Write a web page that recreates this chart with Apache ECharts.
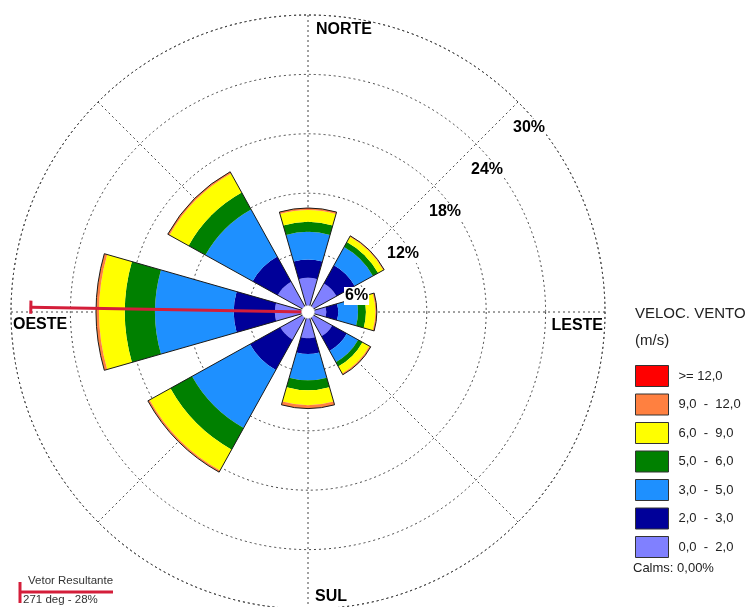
<!DOCTYPE html>
<html><head><meta charset="utf-8">
<script src="https://cdn.jsdelivr.net/npm/echarts/dist/echarts.min.js"></script>
<style>html,body{margin:0;padding:0;background:#fff}#c{width:753px;height:607px}</style>
</head><body><div id="c"></div>
<script>
// ---- data ----
const directions = ['N', 'NE', 'E', 'SE', 'S', 'SW', 'W', 'NW'];
const speedClasses = ['0,0  -  2,0', '2,0  -  3,0', '3,0  -  5,0', '5,0  -  6,0', '6,0  -  9,0', '9,0  -  12,0', '>= 12,0'];
const classColors = ['#8080FF', '#000099', '#1E90FF', '#008000', '#FFFF00', '#FF8040', '#FF0000'];
const v0_2  = [3.45, 3.3, 1.85, 2.8, 2.65, 3.2, 3.35, 3.5];
const v2_3  = [1.85, 2.1, 1.2, 1.7, 1.6, 3.5, 4.15, 2.9];
const v3_5  = [2.8, 2.1, 2.0, 1.3, 2.65, 6.7, 7.95, 5.45];
const v5_6  = [1.0, 0.6, 0.8, 0.5, 1.0, 2.5, 3.05, 1.95];
const v6_9  = [1.2, 0.6, 0.95, 0.8, 1.5, 2.4, 2.6, 2.2];
const v9_12 = [0.2, 0.1, 0.15, 0.15, 0.35, 0.2, 0.3, 0.2];
const v12   = [0, 0, 0, 0, 0, 0, 0, 0];
const radiusTicks = [6, 12, 18, 24, 30];
const cardinalNames = ['NORTE', 'LESTE', 'SUL', 'OESTE'];
const cardinalAngles = [0, 90, 180, 270];
const vectorDeg = 271;
const vectorPct = 28;
const calmsText = 'Calms: 0,00%';

// ---- layout ----
const CX = 308, CY = 312, R = 297;
const classValues = [v0_2, v2_3, v3_5, v5_6, v6_9, v9_12, v12];
const totals = directions.map((d, i) => classValues.reduce((s, arr) => s + arr[i], 0));
const grid = { type: [2, 3], color: '#444', width: 1 };
const red = '#D41E3A';
const clear = 'rgba(0,0,0,0)';

const series = classValues.map((arr, k) => ({
  type: 'bar', coordinateSystem: 'polar', polarIndex: 0, stack: 'wind',
  name: speedClasses[k], data: arr,
  itemStyle: { color: classColors[k] },
  barCategoryGap: '29%', barGap: '-100%', z: 2
}));
series.push({
  type: 'bar', coordinateSystem: 'polar', polarIndex: 0, name: 'outline',
  data: totals, silent: true,
  itemStyle: { color: clear, borderColor: '#1a1a1a', borderWidth: 1 },
  barCategoryGap: '29%', barGap: '-100%', z: 3
});
// resultant vector
const capHalf = 0.66;
const capR = Math.sqrt(vectorPct * vectorPct + capHalf * capHalf);
const capD = Math.atan(capHalf / vectorPct) * 180 / Math.PI;
series.push({
  type: 'line', coordinateSystem: 'polar', polarIndex: 1, symbol: 'none', silent: true,
  data: [[0, vectorDeg], [vectorPct, vectorDeg]],
  lineStyle: { color: red, width: 3 }, z: 10
});
series.push({
  type: 'line', coordinateSystem: 'polar', polarIndex: 1, symbol: 'none', silent: true,
  data: [[capR, vectorDeg - capD], [capR, vectorDeg + capD]],
  lineStyle: { color: red, width: 3 }, z: 10
});
const labelFont = {
  fontFamily: 'Arial, Liberation Sans', fontWeight: 'bold', fontSize: 16, color: '#000',
  opacity: 1, textBorderWidth: 0
};
// ring labels
series.push({
  type: 'scatter', coordinateSystem: 'polar', polarIndex: 1, symbolSize: 1, silent: true,
  itemStyle: { color: clear },
  data: radiusTicks.map(t => [t, 45]),
  label: Object.assign({
    show: true, position: 'inside', align: 'left', verticalAlign: 'middle',
    offset: [-6, 26], formatter: p => p.value[0] + '%',
    backgroundColor: '#fff', padding: [1, 1]
  }, labelFont), z: 20
});
// cardinal labels
const cardOffsets = [[8, 15, 'left'], [-2, 14, 'right'], [7, -12, 'left'], [2, 13, 'left']];
series.push({
  type: 'scatter', coordinateSystem: 'polar', polarIndex: 1, symbolSize: 1, silent: true,
  itemStyle: { color: clear },
  data: cardinalNames.map((n, i) => ({
    value: [30, cardinalAngles[i]], name: n,
    label: { offset: [cardOffsets[i][0], cardOffsets[i][1]], align: cardOffsets[i][2] }
  })),
  label: Object.assign({
    show: true, position: 'inside', verticalAlign: 'middle', formatter: p => p.name
  }, labelFont), z: 20
});

const chart = echarts.init(document.getElementById('c'), null, { renderer: 'canvas' });
chart.setOption({
  animation: false,
  backgroundColor: '#fff',
  polar: [
    { center: [CX, CY], radius: R },
    { center: [CX, CY], radius: R }
  ],
  angleAxis: [
    { polarIndex: 0, type: 'category', data: directions, startAngle: 112.5, clockwise: true,
      axisLine: { show: false }, axisTick: { show: false }, axisLabel: { show: false }, splitLine: { show: false } },
    { polarIndex: 1, type: 'value', min: 0, max: 360, interval: 45, startAngle: 90, clockwise: true,
      axisLine: { show: true, lineStyle: grid }, axisTick: { show: false }, axisLabel: { show: false },
      splitLine: { show: true, lineStyle: grid } }
  ],
  radiusAxis: [
    { polarIndex: 0, type: 'value', min: 0, max: 30,
      axisLine: { show: false }, axisTick: { show: false }, axisLabel: { show: false }, splitLine: { show: false } },
    { polarIndex: 1, type: 'value', min: 0, max: 30, interval: 6,
      axisLine: { show: false }, axisTick: { show: false }, axisLabel: { show: false },
      splitLine: { show: true, lineStyle: grid } }
  ],
  legend: {
    orient: 'vertical', left: 635, top: 365, padding: 0,
    itemWidth: 33, itemHeight: 21, itemGap: 6.5, icon: 'rect',
    data: speedClasses.slice().reverse(),
    itemStyle: { borderColor: '#333', borderWidth: 1 },
    textStyle: { fontFamily: 'Arial, Liberation Sans', fontSize: 13, color: '#222', padding: [0, 0, 0, 5] }
  },
  graphic: [
    { type: 'circle', shape: { cx: CX, cy: CY, r: 6.5 }, style: { fill: '#fff', stroke: '#bbb', lineWidth: 0.5 }, z: 50 },
    { type: 'text', left: 635, top: 306, style: { text: 'VELOC. VENTO', font: '15px Arial, Liberation Sans', fill: '#222' }, z: 50 },
    { type: 'text', left: 635, top: 333, style: { text: '(m/s)', font: '15px Arial, Liberation Sans', fill: '#222' }, z: 50 },
    { type: 'text', left: 633, top: 562, style: { text: calmsText, font: '13px Arial, Liberation Sans', fill: '#222' }, z: 50 },
    { type: 'line', shape: { x1: 20, y1: 582, x2: 20, y2: 603 }, style: { stroke: red, lineWidth: 3 }, z: 50 },
    { type: 'line', shape: { x1: 20, y1: 592, x2: 113, y2: 592 }, style: { stroke: red, lineWidth: 3 }, z: 50 },
    { type: 'text', left: 28, top: 575, style: { text: 'Vetor Resultante', font: '11.5px Arial, Liberation Sans', fill: '#333' }, z: 50 },
    { type: 'text', left: 23, top: 594, style: { text: vectorDeg + ' deg - ' + vectorPct + '%', font: '11.5px Arial, Liberation Sans', fill: '#333' }, z: 50 }
  ],
  series: series
});
</script>
</body></html>
